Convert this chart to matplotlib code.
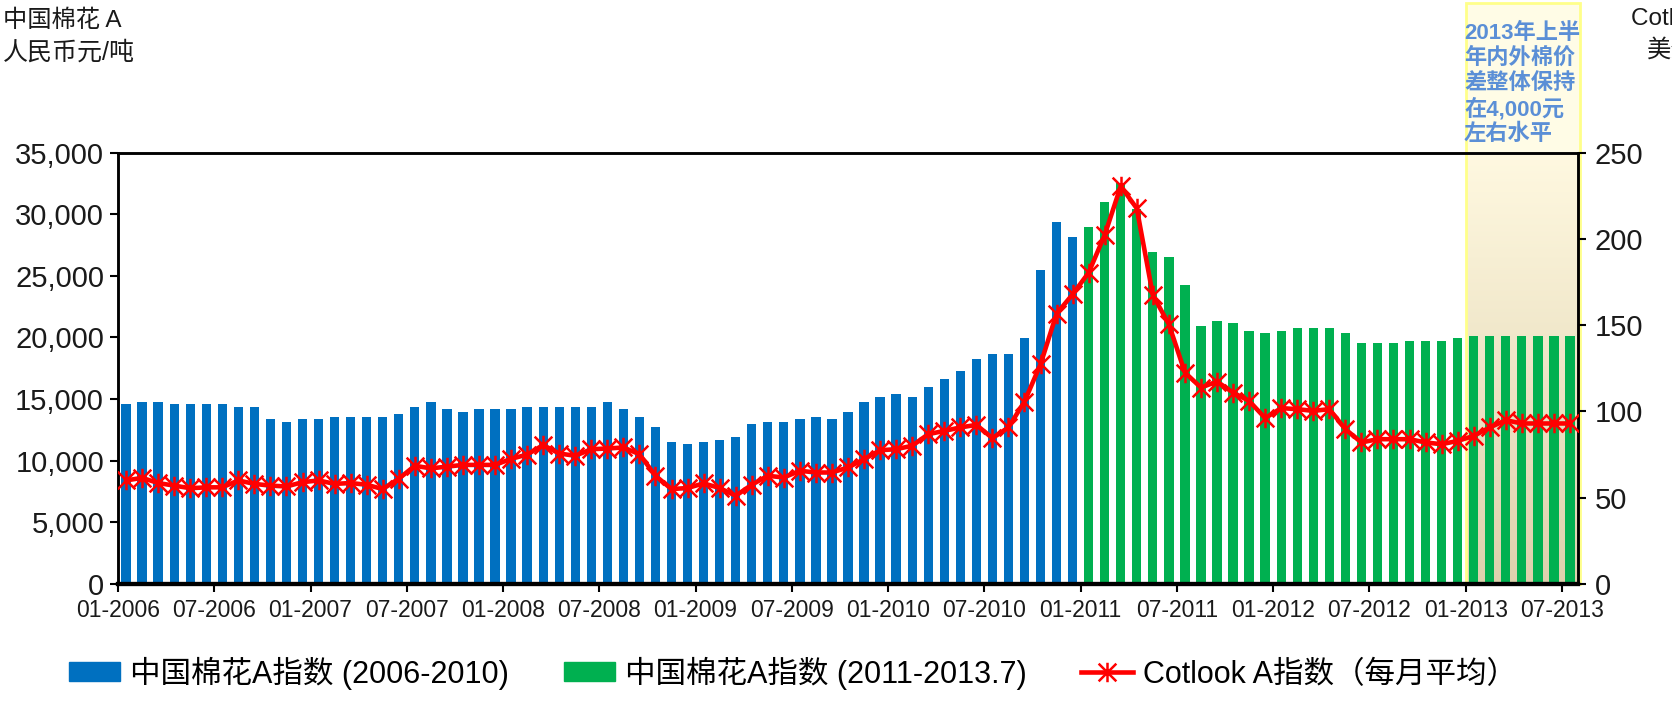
import numpy as np
import matplotlib.pyplot as plt
from matplotlib.patches import Rectangle, Patch
from matplotlib.lines import Line2D
from matplotlib.path import Path
from matplotlib.ticker import StrMethodFormatter
from matplotlib.transforms import ScaledTranslation

plt.rcParams['font.family'] = ['Liberation Sans', 'Noto Sans CJK SC']

# --- data: monthly, 01-2006 .. 07-2013 ---
# China Cotton A index, yuan/ton
china_a_2006_2010 = [
    14580, 14800, 14800, 14580, 14580, 14580, 14580, 14370, 14370, 13370, 13150, 13370,
    13370, 13560, 13560, 13560, 13560, 13770, 14370, 14800, 14180, 13960, 14180, 14180,
    14180, 14370, 14370, 14370, 14370, 14370, 14800, 14180, 13560, 12750, 11530, 11320,
    11530, 11720, 11940, 12960, 13150, 13150, 13370, 13560, 13370, 13960, 14800, 15200,
    15420, 15200, 16010, 16640, 17280, 18280, 18690, 18690, 19930, 25440, 29350, 28140,
]
china_a_2011_2013 = [
    28940, 31000, 32500, 30400, 26900, 26490, 24220, 20930, 21360, 21140, 20520, 20340,
    20520, 20740, 20740, 20740, 20340, 19530, 19530, 19530, 19710, 19710, 19710, 19930,
    20120, 20120, 20120, 20120, 20120, 20120, 20120,
]
# Cotlook A index, monthly average, US cents/lb
cotlook_a = [
    60, 61.5, 58.5, 57, 55.5, 56, 56, 60, 58, 57, 56.5, 59,
    60, 58, 58.5, 57.5, 55, 61, 68.5, 67, 68, 69, 69, 69,
    72.5, 75, 80.5, 75.6, 74.3, 78.1, 78.5, 79.1, 75.2, 62.7, 55.0, 55.6,
    58.3, 55.6, 51.1, 57.5, 62.7, 61.7, 65.6, 64.6, 64.6, 67.5, 72.3, 77.5,
    78.1, 80.1, 86.8, 88.7, 90.7, 92.2, 84.5, 90.7, 105.7, 127.3, 156.6, 167.8,
    180.4, 202.2, 230.5, 217.6, 167.4, 150.5, 122.5, 113.8, 117.3, 110.9, 106.1, 96.1,
    101.9, 101.3, 100.3, 101.3, 89.7, 82.0, 83.9, 83.9, 83.9, 82.0, 81.0, 82.9,
    85.8, 90.7, 94.9, 93.0, 93.0, 93.0, 93.0,
]
tick_labels = ['01-2006', '07-2006', '01-2007', '07-2007', '01-2008', '07-2008',
               '01-2009', '07-2009', '01-2010', '07-2010', '01-2011', '07-2011',
               '01-2012', '07-2012', '01-2013', '07-2013']

box_text = ['2013年上半', '年内外棉价', '差整体保持', '在4,000元', '左右水平']

BLUE = '#0070C0'
GREEN = '#00B050'
RED = '#FF0000'
TXT = '#1a1a1a'

n_blue = len(china_a_2006_2010)
n_all = n_blue + len(china_a_2011_2013)
x_blue = np.arange(n_blue) + 0.5
x_green = np.arange(n_blue, n_all) + 0.5
x_all = np.arange(n_all) + 0.5

W, H = 1672, 707
fig = plt.figure(figsize=(W / 100, H / 100), dpi=100)
ax = fig.add_axes([118 / W, 1 - 584 / H, 1460 / W, 431.5 / H])
ax.set_facecolor('none')

# shaded box for 2013
box_x0 = 84
ax.add_patch(Rectangle((box_x0, 0), n_all - box_x0 + 0.1, 47100, facecolor='#FFFCE6',
                       edgecolor='none', clip_on=False, zorder=0.3))
grad = np.linspace(0, 1, 256)[:, None]
top_c = np.array([1.0, 0.975, 0.88])
bot_c = np.array([0.87, 0.82, 0.68])
img = top_c * (1 - grad[..., None]) + bot_c * grad[..., None]
ax.imshow(img, extent=(box_x0, n_all + 0.1, 0, 35000), aspect='auto', zorder=0.4,
          clip_on=False)
ax.add_patch(Rectangle((box_x0, 0), n_all - box_x0 + 0.1, 47100, facecolor='none',
                       edgecolor='#FFFF8A', linewidth=2, clip_on=False, zorder=0.5))

ax.bar(x_blue, china_a_2006_2010, width=0.58, color=BLUE, zorder=2)
ax.bar(x_green, china_a_2011_2013, width=0.58, color=GREEN, zorder=2)

ax.set_xlim(0, n_all)
ax.set_ylim(0, 35000)
ax.set_yticks(np.arange(0, 35001, 5000))
ax.yaxis.set_major_formatter(StrMethodFormatter('{x:,.0f}'))
ax.set_xticks(np.arange(0, n_all, 6))
ax.set_xticklabels(tick_labels, fontsize=16.5)
shift = ScaledTranslation(8 / 100, 0, fig.dpi_scale_trans)
for lab in ax.get_xticklabels():
    lab.set_transform(lab.get_transform() + shift)

ax2 = ax.twinx()
ax2.set_ylim(0, 250)
ax2.set_yticks(np.arange(0, 251, 50))

star = Path([(-1, -1), (1, 1), (-1, 1), (1, -1), (0, -1.1), (0, 1.1)],
            [Path.MOVETO, Path.LINETO, Path.MOVETO, Path.LINETO, Path.MOVETO, Path.LINETO])
mstyle = dict(color=RED, linewidth=3.3, marker=star, markersize=14,
              markerfacecolor='none', markeredgecolor=RED, markeredgewidth=1.8)
ax2.plot(x_all, cotlook_a, zorder=5, **mstyle)

for a in (ax, ax2):
    for s in a.spines.values():
        s.set_linewidth(1.8)
        s.set_color('black')
    a.spines['bottom'].set_linewidth(3)
    a.tick_params(direction='out', length=6, width=1.5, colors='black', labelcolor=TXT)
ax.tick_params(axis='y', labelsize=21, pad=4)
ax.tick_params(axis='x', pad=5)
ax2.tick_params(axis='y', labelsize=21, pad=6)

# box annotation
for i, t in enumerate(box_text):
    fig.text(1464 / W, 1 - (33 + 25.3 * i) / H, t, color='#5B8FD6', fontsize=16,
             fontweight='bold', va='center', ha='left')

# axis titles (right one runs off the canvas as in the original)
fig.text(3 / W, 1 - 21 / H, '中国棉花 A', fontsize=17.5, color=TXT, va='center',
         fontweight='light')
fig.text(3 / W, 1 - 53 / H, '人民币元/吨', fontsize=18, color=TXT, va='center',
         fontweight='light')
fig.text(1631 / W, 1 - 19 / H, 'Cotlook A', fontsize=17.5, color=TXT, va='center')
fig.text(1647 / W, 1 - 50 / H, '美分/磅', fontsize=17.5, color=TXT, va='center',
         fontweight='light')

handles = [Patch(color=BLUE), Patch(color=GREEN), Line2D([], [], **mstyle)]
labels = ['中国棉花A指数 (2006-2010)', '中国棉花A指数 (2011-2013.7)', 'Cotlook A指数（每月平均）']
fig.legend(handles, labels, loc='center', bbox_to_anchor=(0.474, 1 - 673 / H), ncol=3,
           frameon=False, handlelength=1.7, handleheight=0.6, handletextpad=0.3,
           columnspacing=1.8, prop={'size': 22, 'weight': 'light'})

fig.savefig('out.png', dpi=100, facecolor='white')
